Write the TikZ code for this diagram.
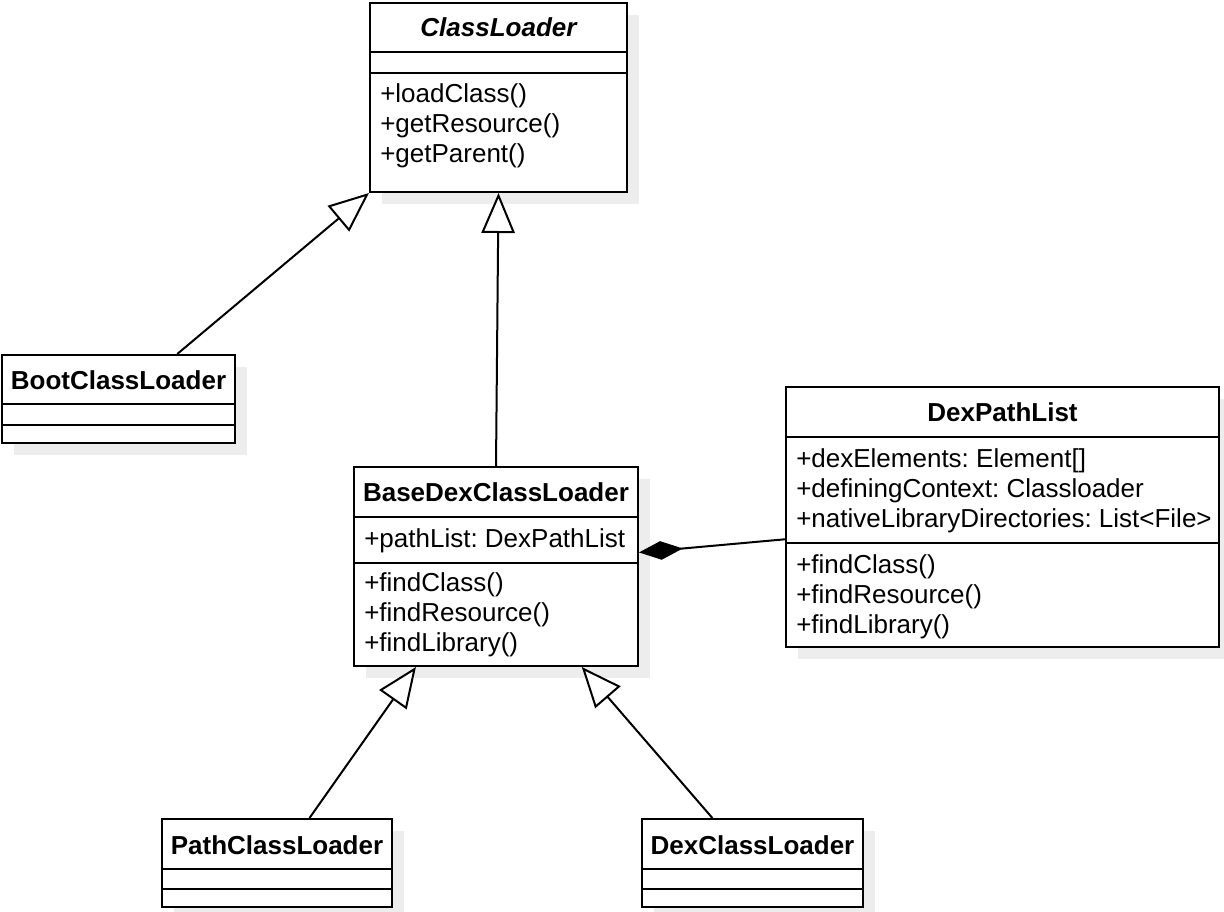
\documentclass[tikz,border=0pt]{standalone}
\usepackage{fontspec}
\setmainfont{Liberation Sans}
\usetikzlibrary{arrows.meta,calc,shadows}
\newcommand{\memberlist}[1]{\begin{tabular}[t]{@{}l@{}}#1\end{tabular}}
\frenchspacing

\begin{document}
\begin{tikzpicture}[x=0.75pt,y=-0.75pt,
  classbox/.style={draw, line width=1.5pt, fill=white, inner sep=0pt,
    drop shadow={shadow xshift=9pt, shadow yshift=-9pt, fill=black!7, opacity=1}},
  divider/.style={line width=1.5pt},
  classname/.style={font=\fontsize{19.5}{22.5}\selectfont\bfseries, inner sep=0pt, anchor=base},
  members/.style={font=\fontsize{19.5}{22.5}\selectfont, inner sep=0pt, anchor=base west},
  inherit/.style={line width=1.5pt, -{Triangle[length=30pt, width=25pt, fill=white, line width=1.5pt]}},
  compose/.style={line width=1.5pt, -{Diamond[length=33pt, width=14pt, fill=black]}}]
\useasboundingbox (0,0) rectangle (1224,911);

% class boxes
\node[classbox, minimum width=192.75pt, minimum height=141.75pt] (cl) at (498.5,97.5) {};
\node[classbox, minimum width=174.75pt, minimum height=66pt] (boot) at (118.5,399) {};
\node[classbox, minimum width=213pt, minimum height=149.25pt] (bdcl) at (496,566.5) {};
\node[classbox, minimum width=324.75pt, minimum height=195pt] (dpl) at (1002.5,517) {};
\node[classbox, minimum width=172.5pt, minimum height=66pt] (pcl) at (277,863) {};
\node[classbox, minimum width=165.75pt, minimum height=66pt] (dcl) at (752.5,863) {};

% compartments
\draw[divider] (cl.west |- 0,52) -- (cl.east |- 0,52);
\draw[divider] (cl.west |- 0,73) -- (cl.east |- 0,73);
\draw[divider] (boot.west |- 0,404) -- (boot.east |- 0,404);
\draw[divider] (boot.west |- 0,425) -- (boot.east |- 0,425);
\draw[divider] (bdcl.west |- 0,517) -- (bdcl.east |- 0,517);
\draw[divider] (bdcl.west |- 0,563) -- (bdcl.east |- 0,563);
\draw[divider] (dpl.west |- 0,437) -- (dpl.east |- 0,437);
\draw[divider] (dpl.west |- 0,543) -- (dpl.east |- 0,543);
\draw[divider] (pcl.west |- 0,869) -- (pcl.east |- 0,869);
\draw[divider] (pcl.west |- 0,889) -- (pcl.east |- 0,889);
\draw[divider] (dcl.west |- 0,869) -- (dcl.east |- 0,869);
\draw[divider] (dcl.west |- 0,889) -- (dcl.east |- 0,889);

% texts
\node[classname] (cl-name) at (498.5,36) {\itshape ClassLoader};
\node[members] (cl-ops) at (380,102) {\memberlist{+loadClass()\\+getResource()\\+getParent()}};
\node[classname] (boot-name) at (118.5,389) {BootClassLoader};
\node[classname] (bdcl-name) at (496,501) {BaseDexClassLoader};
\node[members] (bdcl-attr) at (364,547) {+pathList: DexPathList};
\node[members] (bdcl-ops) at (364,591) {\memberlist{+findClass()\\+findResource()\\+findLibrary()}};
\node[classname] (dpl-name) at (1002.5,421) {DexPathList};
\node[members] (dpl-attr) at (796,467) {\memberlist{+dexElements: Element[]\\+definingContext: Classloader\\+nativeLibraryDirectories: List<File>}};
\node[members] (dpl-ops) at (796,573) {\memberlist{+findClass()\\+findResource()\\+findLibrary()}};
\node[classname] (pcl-name) at (277,854) {PathClassLoader};
\node[classname] (dcl-name) at (752.5,854) {DexClassLoader};

% relations
\draw[inherit] ($(boot.north west)!0.75!(boot.north east)$) -- (cl.south west);
\draw[inherit] (bdcl.north) -- (cl.south);
\draw[inherit] ($(pcl.north west)!0.64!(pcl.north east)$) -- ($(bdcl.south west)!0.22!(bdcl.south east)$);
\draw[inherit] ($(dcl.north west)!0.32!(dcl.north east)$) -- ($(bdcl.south west)!0.8!(bdcl.south east)$);
\draw[compose] ($(dpl.north west)!0.585!(dpl.south west)$) -- ($(bdcl.north east)!0.43!(bdcl.south east)$);

\end{tikzpicture}
\end{document}
